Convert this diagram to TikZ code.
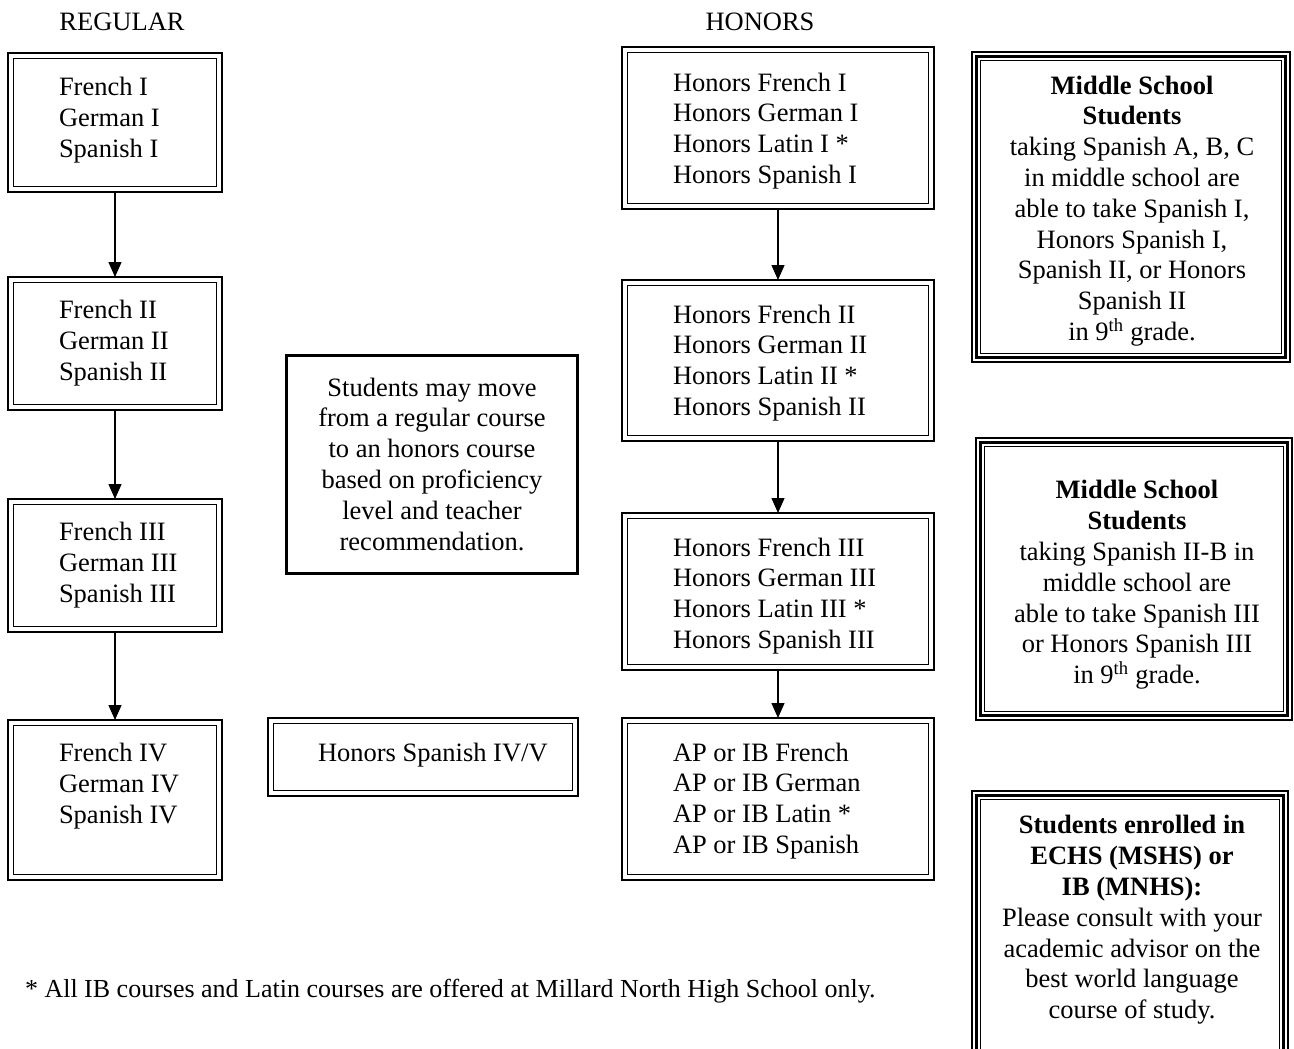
\documentclass[tikz,border=0pt]{standalone}
\usepackage{fontspec}
\setmainfont{Liberation Serif}
\usetikzlibrary{arrows.meta}
\tikzset{
  txt/.style={inner sep=0pt, outer sep=0pt, font=\fontsize{26.5pt}{30.8pt}\selectfont},
  foottxt/.style={inner sep=0pt, outer sep=0pt, font=\fontsize{26pt}{30.8pt}\selectfont},
  outerbox/.style={draw, line width=2.8pt, inner sep=0pt, outer sep=0pt},
  innerline/.style={line width=1.4pt},
  thinline/.style={line width=1.2pt},
  sidebox/.style={draw, line width=1.2pt, inner sep=0pt, outer sep=0pt},
  plainbox/.style={draw, line width=3pt, inner sep=0pt, outer sep=0pt},
  arr/.style={line width=1.3pt, -{Triangle[length=15pt,width=13pt]}}
}
% course box: thick outer, thin inner
\newcommand\coursebox[5]{%
  \node[outerbox, minimum width={(#4-#2)*1pt}, minimum height={(#5-#3)*1pt}] (#1) at ({(#2+#4)/2},{(#3+#5)/2}) {};
  \draw[innerline] ([shift={(5.5,5.5)}]#1.north west) rectangle ([shift={(-5.5,-5.5)}]#1.south east);}
% side box: thin, thick, thin
\newcommand\notebox[5]{%
  \node[sidebox, minimum width={(#4-#2)*1pt}, minimum height={(#5-#3)*1pt}] (#1) at ({(#2+#4)/2},{(#3+#5)/2}) {};
  \draw[line width=2.8pt] ([shift={(4.2,4.2)}]#1.north west) rectangle ([shift={(-4.2,-4.2)}]#1.south east);
  \draw[thinline] ([shift={(8.4,8.4)}]#1.north west) rectangle ([shift={(-8.4,-8.4)}]#1.south east);}
\begin{document}
\begin{tikzpicture}[x=1pt,y=-1pt]
\useasboundingbox (0,0) rectangle (1294,1049);
\clip (0,0) rectangle (1294,1049);
\fill[white] (0,0) rectangle (1294,1049);

% headings
\node[txt] (hreg) at (122,22) {REGULAR};
\node[txt] (hhon) at (760,22) {HONORS};

% regular column
\coursebox{r1}{8}{53}{222}{192}
\coursebox{r2}{8}{277}{222}{410}
\coursebox{r3}{8}{499}{222}{632}
\coursebox{r4}{8}{720}{222}{880}
\node[txt, align=left, anchor=west] (r1t) at (59,120) {French I\\German I\\Spanish I};
\node[txt, align=left, anchor=west] (r2t) at (59,343) {French II\\German II\\Spanish II};
\node[txt, align=left, anchor=west] (r3t) at (59,565) {French III\\German III\\Spanish III};
\node[txt, align=left, anchor=west] (r4t) at (59,786) {French IV\\German IV\\Spanish IV};

% honors column
\coursebox{h1}{622}{47}{934}{209}
\coursebox{h2}{622}{280}{934}{441}
\coursebox{h3}{622}{513}{934}{670}
\coursebox{h4}{622}{718}{934}{880}
\node[txt, align=left, anchor=west] (h1t) at (673,131) {Honors French I\\Honors German I\\Honors Latin I *\\Honors Spanish I};
\node[txt, align=left, anchor=west] (h2t) at (673,363) {Honors French II\\Honors German II\\Honors Latin II *\\Honors Spanish II};
\node[txt, align=left, anchor=west] (h3t) at (673,596) {Honors French III\\Honors German III\\Honors Latin III *\\Honors Spanish III};
\node[txt, align=left, anchor=west] (h4t) at (673,801) {AP or IB French\\AP or IB German\\AP or IB Latin *\\AP or IB Spanish};

% Honors Spanish IV/V
\coursebox{hs}{268}{718}{578}{796}
\node[txt, anchor=west] (hst) at (318,755) {Honors Spanish IV/V};

% middle note
\node[plainbox, minimum width=291pt, minimum height=218pt] (mid) at (432,464) {};
\node[txt, align=center] (midt) at (432,464) {Students may move\\from a regular course\\to an honors course\\based on proficiency\\level and teacher\\recommendation.};

% side boxes
\notebox{s1}{972}{52}{1290}{362}
\notebox{s2}{976}{438}{1292}{720}
\notebox{s3}{972}{791}{1288}{1070}
\node[txt, align=center] (s1t) at (1132,211) {\textbf{Middle School}\\\textbf{Students}\\taking Spanish A, B, C\\in middle school are\\able to take Spanish I,\\Honors Spanish I,\\Spanish II, or Honors\\Spanish II\\in 9\textsuperscript{th} grade.};
\node[txt, align=center] (s2t) at (1137,585) {\textbf{Middle School}\\\textbf{Students}\\taking Spanish II-B in\\middle school are\\able to take Spanish III\\or Honors Spanish III\\in 9\textsuperscript{th} grade.};
\node[txt, align=center] (s3t) at (1132,920) {\textbf{Students enrolled in}\\\textbf{ECHS (MSHS) or}\\\textbf{IB (MNHS):}\\Please consult with your\\academic advisor on the\\best world language\\course of study.};

% footnote
\node[foottxt, anchor=west] (foot) at (25,991) {* All IB courses and Latin courses are offered at Millard North High School only.};

% arrows
\draw[arr] (r1.south) -- (r2.north);
\draw[arr] (r2.south) -- (r3.north);
\draw[arr] (r3.south) -- (r4.north);
\draw[arr] (h1.south) -- (h2.north);
\draw[arr] (h2.south) -- (h3.north);
\draw[arr] (h3.south) -- (h4.north);
\end{tikzpicture}
\end{document}
